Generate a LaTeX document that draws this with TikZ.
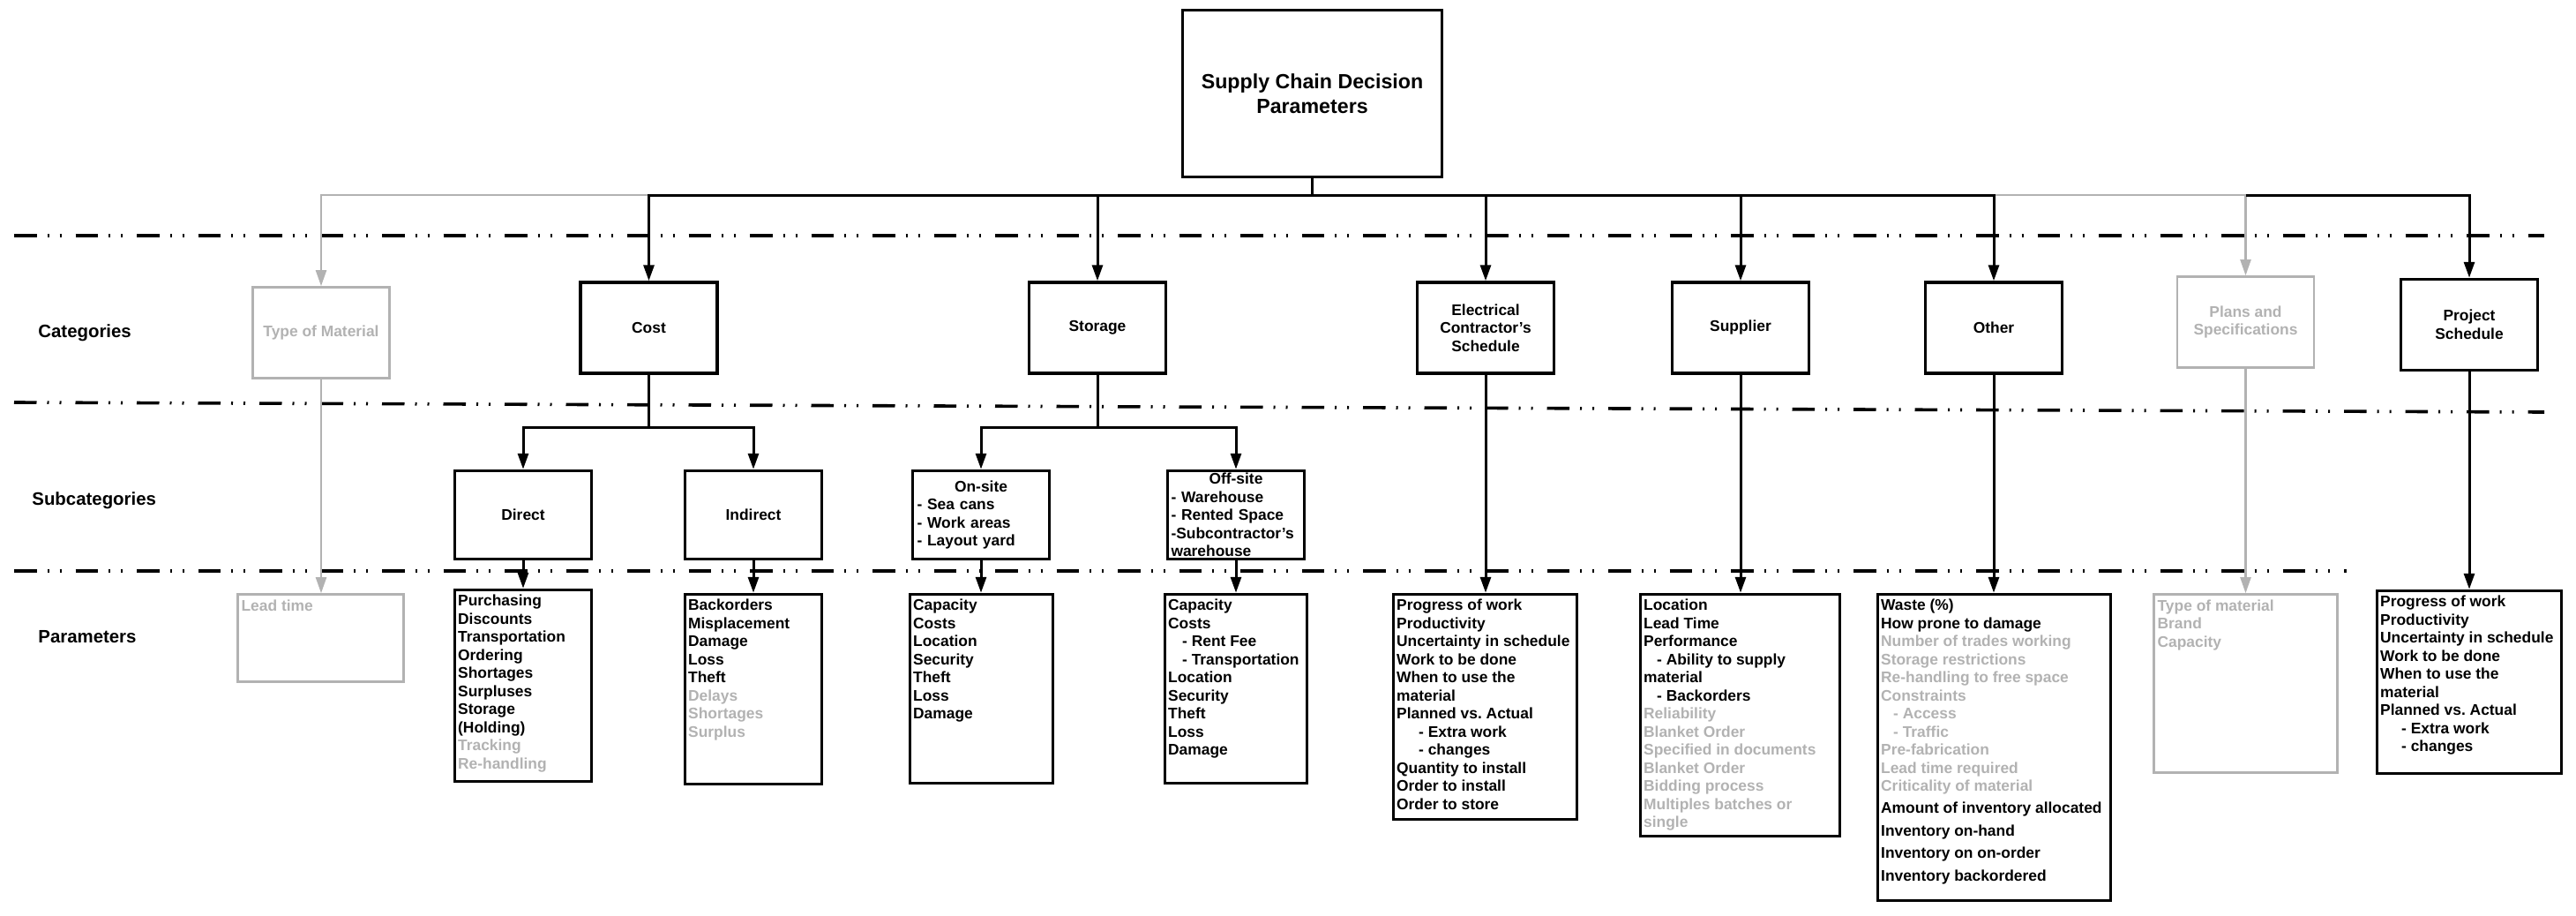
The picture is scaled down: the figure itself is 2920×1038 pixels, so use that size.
\documentclass[tikz,border=0pt]{standalone}
\usepackage{fontspec}
\setmainfont{Liberation Sans}
\usetikzlibrary{arrows.meta,calc}
\definecolor{lg}{RGB}{178,178,178}
\newcommand\gry[1]{{\color{lg}#1}}
\newcommand\ind[2]{\hspace*{#1}- #2}
\frenchspacing
\begin{document}
\begin{tikzpicture}[x=0.5pt,y=-0.5pt,
  bfont/.style={font=\fontsize{8.7}{10.25}\selectfont\bfseries\frenchspacing},
  bx/.style={draw, line width=1.75pt, inner sep=0pt, minimum width=77.5pt, minimum height=51.5pt, align=center, bfont},
  gbx/.style={bx, draw=lg, text=lg, line width=1.3pt},
  pb/.style={draw, line width=1.75pt, inner sep=0pt},
  gpb/.style={pb, draw=lg, line width=1.3pt},
  ptx/.style={anchor=north west, inner sep=0pt, align=left, bfont},
  lbl/.style={anchor=west, inner sep=0pt, font=\fontsize{10.2}{12}\selectfont\bfseries},
  bline/.style={line width=1.5pt},
  gline/.style={line width=1.1pt, draw=lg},
  arr/.style={-{Triangle[length=9pt,width=6pt]}},
  sepl/.style={line width=1.8pt, dash pattern=on 12.75pt off 6pt on 1pt off 6pt on 1pt off 8pt}
]
\useasboundingbox (0,0) rectangle (2920,1038);

% separators
\draw[sepl] (16,267) -- (2884,267);
\draw[sepl] (16,456) -- (2884,467);
\draw[sepl] (16,647) -- (2660,647);

% row labels
\node[lbl] (lcat) at (43,377) {Categories};
\node[lbl] (lsub) at (36,567) {Subcategories};
\node[lbl] (lpar) at (43,722) {Parameters};

% top
\node[bx, minimum width=147pt, minimum height=94.5pt, font=\fontsize{11.6}{14}\selectfont\bfseries] (top) at (1487.5,106) {Supply Chain Decision\\Parameters};

% categories
\node[gbx] (tom) at (364,377) {Type of Material};
\node[bx] (cost) at (735.5,371.5) {Cost};
\node[bx] (stor) at (1244,371.5) {Storage};
\node[bx] (elec) at (1684,371.5) {Electrical\\Contractor's\\Schedule};
\node[bx] (supp) at (1973,371.5) {Supplier};
\node[bx] (oth) at (2260,371.5) {Other};
\node[gbx] (plan) at (2545.5,365) {Plans and\\Specifications};
\node[bx] (proj) at (2799,368) {Project\\Schedule};

% subcategories
\node[bx, minimum height=50pt] (dir) at (593,583.5) {Direct};
\node[bx, minimum height=50pt] (indir) at (854,583.5) {Indirect};
\node[bx, minimum height=50pt, text width=72.5pt, align=left] (ons) at (1112,583.5)
  {\makebox[\linewidth]{On-site}\\- Sea cans\\- Work areas\\- Layout yard};
\node[bx, minimum height=50pt, text width=73.5pt, align=left] (offs) at (1401,583.5)
  {\makebox[\linewidth]{Off-site}\\- Warehouse\\- Rented Space\\\mbox{-Subcontractor's}\\warehouse};

% parameter boxes
\node[gpb, minimum width=94pt, minimum height=49.5pt] (lead) at (363.5,723) {};
\node[pb, minimum width=77.5pt, minimum height=108.5pt] (dp) at (593,777) {};
\node[pb, minimum width=77.5pt, minimum height=107.5pt] (ip) at (854,781) {};
\node[pb, minimum width=81pt, minimum height=107pt] (onp) at (1112.5,780.5) {};
\node[pb, minimum width=80.5pt, minimum height=107pt] (offp) at (1401,780.5) {};
\node[pb, minimum width=104pt, minimum height=127.5pt] (ep) at (1683.5,801) {};
\node[pb, minimum width=113pt, minimum height=137pt] (sp) at (1972.5,810.5) {};
\node[pb, minimum width=132pt, minimum height=173.5pt] (op) at (2260.5,847) {};
\node[gpb, minimum width=104pt, minimum height=101pt] (pp) at (2545.5,774.5) {};
\node[pb, minimum width=104.5pt, minimum height=103.5pt] (jp) at (2799,773) {};

% parameter texts
\node[ptx, text=lg] (leadt) at ([shift={(2.5pt,-1.75pt)}]lead.north west) {\rule{0pt}{8pt}Lead time};
\node[ptx] (dpt) at ([shift={(2.5pt,-1.75pt)}]dp.north west)
  {\rule{0pt}{8pt}Purchasing\\Discounts\\Transportation\\Ordering\\Shortages\\Surpluses\\Storage\\(Holding)\\\gry{Tracking}\\\gry{Re-handling}};
\node[ptx] (ipt) at ([shift={(2.5pt,-1.75pt)}]ip.north west)
  {\rule{0pt}{8pt}Backorders\\Misplacement\\Damage\\Loss\\Theft\\\gry{Delays}\\\gry{Shortages}\\\gry{Surplus}};
\node[ptx] (onpt) at ([shift={(2.5pt,-1.75pt)}]onp.north west)
  {\rule{0pt}{8pt}Capacity\\Costs\\Location\\Security\\Theft\\Loss\\Damage};
\node[ptx] (offpt) at ([shift={(2.5pt,-1.75pt)}]offp.north west)
  {\rule{0pt}{8pt}Capacity\\Costs\\\ind{8pt}{Rent Fee}\\\ind{8pt}{Transportation}\\Location\\Security\\Theft\\Loss\\Damage};
\node[ptx] (ept) at ([shift={(2.5pt,-1.75pt)}]ep.north west)
  {\rule{0pt}{8pt}Progress of work\\Productivity\\Uncertainty in schedule\\Work to be done\\When to use the\\material\\Planned vs.\ Actual\\\ind{12.5pt}{Extra work}\\\ind{12.5pt}{changes}\\Quantity to install\\Order to install\\Order to store};
\node[ptx] (spt) at ([shift={(2.5pt,-1.75pt)}]sp.north west)
  {\rule{0pt}{8pt}Location\\Lead Time\\Performance\\\ind{7.5pt}{Ability to supply}\\material\\\ind{7.5pt}{Backorders}\\\gry{Reliability}\\\gry{Blanket Order}\\\gry{Specified in documents}\\\gry{Blanket Order}\\\gry{Bidding process}\\\gry{Multiples batches or}\\\gry{single}};
\node[ptx] (opt) at ([shift={(2.5pt,-1.75pt)}]op.north west)
  {\rule{0pt}{8pt}Waste (\%)\\How prone to damage\\\gry{Number of trades working}\\\gry{Storage restrictions}\\\gry{Re-handling to free space}\\\gry{Constraints}\\\gry{\ind{7pt}{Access}}\\\gry{\ind{7pt}{Traffic}}\\\gry{Pre-fabrication}\\\gry{Lead time required}\\\gry{Criticality of material}\\[2.1pt]Amount of inventory allocated\\[2.6pt]Inventory on-hand\\[2.6pt]Inventory on on-order\\[2.6pt]Inventory backordered};
\node[ptx, text=lg] (ppt) at ([shift={(2.5pt,-1.75pt)}]pp.north west)
  {\rule{0pt}{8pt}Type of material\\Brand\\Capacity};
\node[ptx] (jpt) at ([shift={(2.5pt,-1.75pt)}]jp.north west)
  {\rule{0pt}{8pt}Progress of work\\Productivity\\Uncertainty in schedule\\Work to be done\\When to use the\\material\\Planned vs.\ Actual\\\ind{12pt}{Extra work}\\\ind{12pt}{changes}};

% connectors top -> categories
\coordinate (bus) at (1487.5,221);
\draw[gline, arr] (cost.north |- bus) -- (tom.north |- bus) -- (tom.north);
\draw[gline, arr] (oth.north |- bus) -- (plan.north |- bus) -- (plan.north);
\draw[bline] (top.south) -- (bus);
\draw[bline, arr] (bus) -| (cost.north);
\draw[bline, arr] (bus) -| (stor.north);
\draw[bline, arr] (bus) -| (elec.north);
\draw[bline, arr] (bus) -| (supp.north);
\draw[bline, arr] (bus) -| (oth.north);
\draw[bline, arr] (plan.north |- bus) -| (proj.north);

% cost branch
\coordinate (cbar) at (735.5,484);
\draw[bline] (cost.south) -- (cbar);
\draw[bline, arr] (cbar) -| (dir.north);
\draw[bline, arr] (cbar) -| (indir.north);
% storage branch
\coordinate (sbar) at (1244,484);
\draw[bline] (stor.south) -- (sbar);
\draw[bline, arr] (sbar) -| (ons.north);
\draw[bline, arr] (sbar) -| (offs.north);

% to parameters
\draw[gline, arr] (tom.south) -- (tom.south |- lead.north);
\draw[bline, arr] (dir.south) -- (dir.south |- dp.north);
\draw[bline, arr] (indir.south) -- (indir.south |- ip.north);
\draw[bline, arr] (ons.south) -- (ons.south |- onp.north);
\draw[bline, arr] (offs.south) -- (offs.south |- offp.north);
\draw[bline, arr] (elec.south) -- (elec.south |- ep.north);
\draw[bline, arr] (supp.south) -- (supp.south |- sp.north);
\draw[bline, arr] (oth.south) -- (oth.south |- op.north);
\draw[gline, arr] (plan.south) -- (plan.south |- pp.north);
\draw[bline, arr] (proj.south) -- (proj.south |- jp.north);
\end{tikzpicture}
\end{document}
